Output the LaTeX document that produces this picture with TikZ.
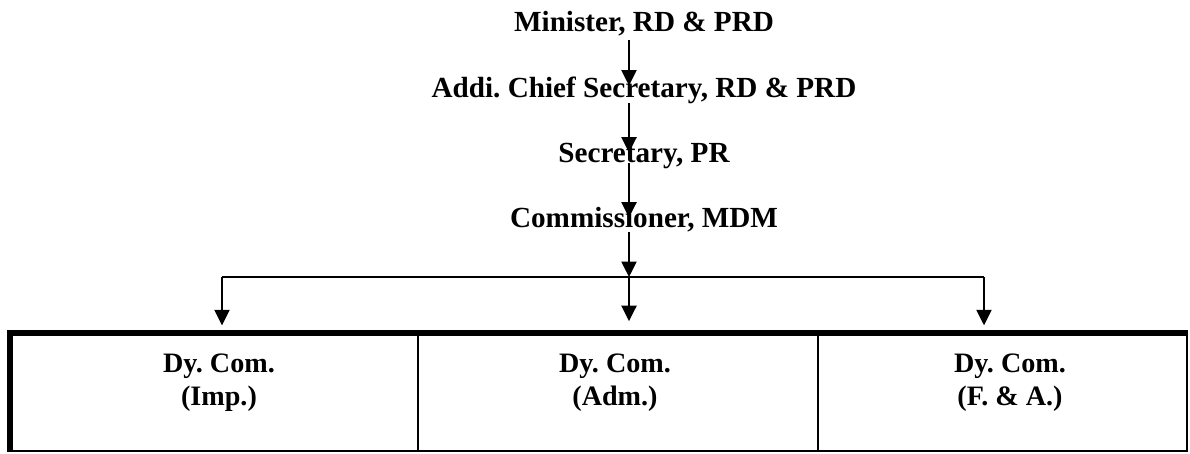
\documentclass[tikz,border=0pt]{standalone}
\usepackage{fontspec}
\setmainfont{Liberation Serif}
\usetikzlibrary{arrows.meta}

\begin{document}
\frenchspacing
\begin{tikzpicture}[x=0.48pt,y=0.48pt]
\tikzstyle{every node}+=[inner sep=0pt]
\tikzstyle{post}=[font=\fontsize{14}{17}\selectfont\bfseries,anchor=base,text height=9.6pt,text depth=2.4pt]
\tikzstyle{dep}=[font=\fontsize{13.5}{15.8}\selectfont\bfseries,align=center]
\tikzstyle{cell}=[draw,line width=1.3pt,minimum height=56.2pt]
\tikzstyle{flow}=[line width=0.95pt,-{Triangle[width=7.2pt,length=7.4pt]}]
\useasboundingbox (0,0) rectangle (1190,-453);
% chain of posts
\node (min) [post] at (644,-31) {Minister, RD \& PRD};
\node (addi) [post] at (644,-97) {Addi. Chief Secretary, RD \& PRD};
\node (sec) [post] at (644,-162) {Secretary, PR};
\node (com) [post] at (644,-227) {Commissioner, MDM};
\coordinate (fork) at (629,-277);
\coordinate (armL) at (222,-277);
\coordinate (armR) at (984,-277);
\draw [flow,shorten <=1.9pt,shorten >=-4.3pt] (min.south -| fork) -- (addi.north -| fork);
\draw [flow,shorten <=0.5pt,shorten >=-5.3pt] (addi.south -| fork) -- (sec.north -| fork);
\draw [flow,shorten <=-2pt,shorten >=-5.3pt] (sec.south -| fork) -- (com.north -| fork);
\draw [flow] (com.south -| fork) -- (fork);
% table of deputies
\node (imp) [cell,minimum width=195.4pt] at (214.5,-392.5) {};
\node (adm) [cell,minimum width=192pt] at (618,-392.5) {};
\node (fa) [cell,minimum width=177.1pt] at (1002.5,-392.5) {};
\draw [line width=2.8pt] (imp.south west) -- (imp.north west) -- (fa.north east);
\node (imptext) [dep] at (219,-383) {Dy. Com.\\(Imp.)};
\node (admtext) [dep] at (615,-383) {Dy. Com.\\(Adm.)};
\node (fatext) [dep] at (1010,-383) {Dy. Com.\\(F. \& A.)};
% branches
\draw [line width=0.8pt] (armL) -- (armR);
\draw [flow,shorten >=3.5pt] (armL) -- (armL |- imp.north);
\draw [flow,shorten >=5.5pt] (fork) -- (fork |- adm.north);
\draw [flow,shorten >=3.5pt] (armR) -- (armR |- fa.north);
\end{tikzpicture}
\end{document}
